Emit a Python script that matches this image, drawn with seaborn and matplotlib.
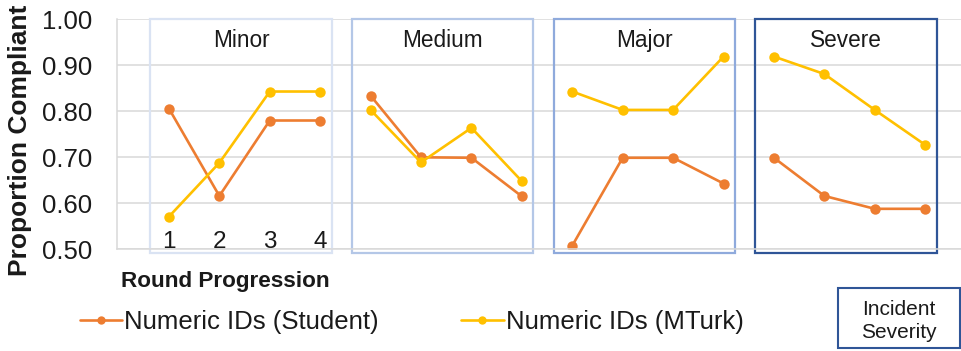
import matplotlib
matplotlib.use("Agg")
import matplotlib.pyplot as plt
from matplotlib.lines import Line2D
from matplotlib.patches import Rectangle
import numpy as np
import pandas as pd
import seaborn as sns

# Compliance by incident severity and round
severity = ["Minor", "Medium", "Major", "Severe"]
rounds = [1, 2, 3, 4]
student = [0.806, 0.616, 0.780, 0.780,
           0.834, 0.700, 0.699, 0.615,
           0.508, 0.699, 0.699, 0.643,
           0.699, 0.616, 0.588, 0.588]
mturk = [0.571, 0.688, 0.843, 0.843,
         0.803, 0.689, 0.764, 0.648,
         0.843, 0.803, 0.803, 0.919,
         0.919, 0.881, 0.803, 0.727]
series_names = ["Numeric IDs (Student)", "Numeric IDs (MTurk)"]
series_colors = ["#ED7D31", "#FFC000"]
box_colors = ["#DAE3F3", "#B4C7E7", "#8FAADC", "#2F5597"]
yticks = [0.50, 0.60, 0.70, 0.80, 0.90, 1.00]

rows = []
for name, vals in zip(series_names, [student, mturk]):
    for p, sev in enumerate(severity):
        for r in rounds:
            rows.append({"series": name, "severity": sev, "round": r,
                         "pos": 4 * p + (r - 1),
                         "value": vals[4 * p + (r - 1)]})
df = pd.DataFrame(rows)

sns.set_theme(style="white")
plt.rcParams["font.family"] = ["Liberation Sans", "DejaVu Sans"]

W, H = 962, 351
fig = plt.figure(figsize=(W / 100, H / 100), dpi=100)
ax = fig.add_axes([117 / W, 1 - 249.3 / H, (W - 117) / W, 230 / H])

sns.lineplot(data=df, x="pos", y="value", hue="series", units="severity",
             estimator=None, hue_order=series_names, palette=series_colors,
             marker="o", markersize=7.5, markeredgewidth=0, linewidth=1.9,
             legend=False, ax=ax)

ax.set_xlim(-1.03, 15.73)
ax.set_ylim(0.5, 1.0)
ax.set_yticks(yticks)
ax.set_yticklabels([f"{v:.2f}" for v in yticks], fontsize=18.5,
                   color="#1a1a1a")
ax.tick_params(axis="y", length=0, pad=18)
ax.set_xticks([])
ax.set_xlabel("")
ax.set_ylabel("")
ax.grid(axis="y", color="#d9d9d9", linewidth=1.1)
ax.grid(axis="x", visible=False)
for side in ["top", "right"]:
    ax.spines[side].set_visible(False)
for side in ["left", "bottom"]:
    ax.spines[side].set_color("#d9d9d9")
    ax.spines[side].set_linewidth(1.1)

# Severity panels
for p, (sev, col) in enumerate(zip(severity, box_colors)):
    x0 = 4 * p - 0.37
    ax.add_patch(Rectangle((x0, 0.491), 3.6, 0.509, fill=False,
                           edgecolor=col, linewidth=1.6, clip_on=False,
                           zorder=1))
    ax.text(x0 + 1.8, 0.955, sev, ha="center", va="center", fontsize=16.3,
            color="#1a1a1a")

# Round numbers inside the first panel
for r in rounds:
    ax.text(r - 1, 0.503, str(r), ha="center", va="baseline", fontsize=17.5,
            color="#1a1a1a")

fig.text(20 / W, 1 - 140 / H, "Proportion Compliant", rotation=90,
         ha="center", va="center", fontsize=19, fontweight="bold",
         color="#1a1a1a")
fig.text(121 / W, 1 - 281 / H, "Round Progression", ha="left",
         va="center", fontsize=16.2, fontweight="bold", color="#1a1a1a")

handles = [Line2D([], [], color=c, marker="o", markersize=6,
                  markeredgewidth=0, linewidth=1.9) for c in series_colors]
fig.legend(handles, series_names, loc="center left",
           bbox_to_anchor=(80 / W, 1 - 322 / H), ncol=2, frameon=False,
           fontsize=18.5, handlelength=1.65, handletextpad=0.08,
           columnspacing=3.2, borderpad=0, borderaxespad=0,
           labelcolor="#1a1a1a")

fig.add_artist(Rectangle((838 / W, 1 - 348 / H), 122 / W, 60 / H,
                         transform=fig.transFigure, facecolor="white",
                         edgecolor="#2F5597", linewidth=1.5))
fig.text(899 / W, 1 - 321 / H, "Incident\nSeverity", ha="center",
         va="center", fontsize=15, linespacing=1.3, color="#1a1a1a")

fig.savefig("out.png", dpi=100)
